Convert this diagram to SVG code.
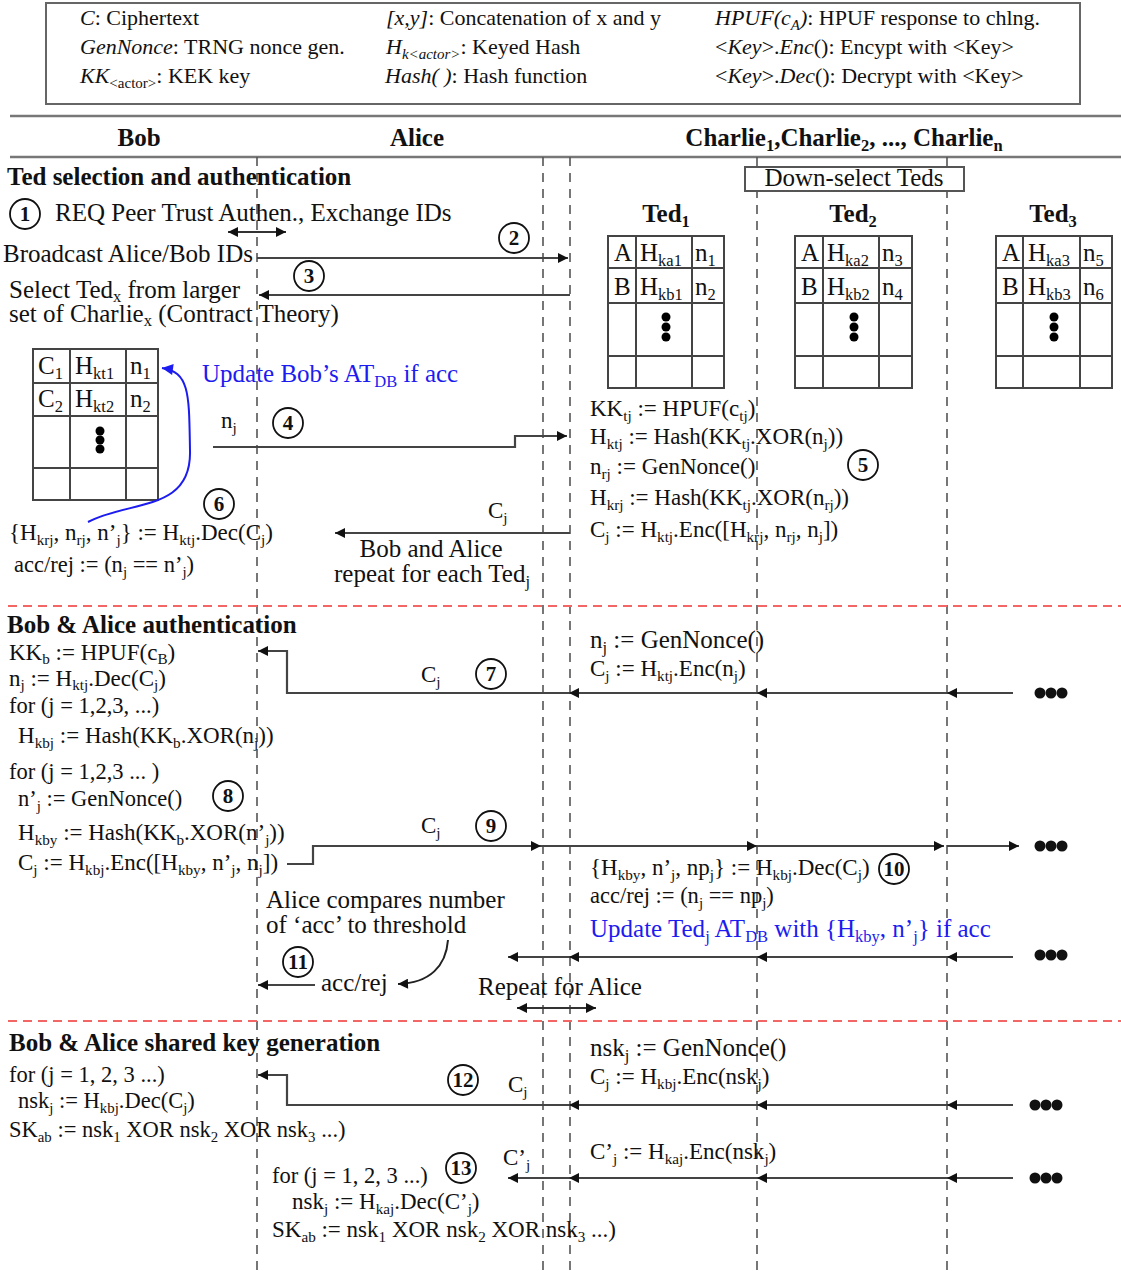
<svg xmlns="http://www.w3.org/2000/svg" width="1121" height="1271" viewBox="0 0 1121 1271">
<style>
text{font-family:"Liberation Serif","Times New Roman",serif;font-size:25px;fill:#111}
.lg{font-family:"Liberation Serif","Times New Roman",serif;font-size:22px}
.f23{font-size:23px}
.f22{font-size:22.5px}
.b{font-weight:bold}
.s{font-size:0.66em}
.ls{font-size:15px}
.blue{fill:#1c1cf0}
.c{text-anchor:middle}
.life{stroke:#555;stroke-width:1.6;stroke-dasharray:9 7;fill:none}
.red{stroke:#f26666;stroke-width:2;stroke-dasharray:9 6;fill:none}
.rule{stroke:#777;stroke-width:2.5}
.ar{stroke:#444;stroke-width:2.2;fill:none;marker-end:url(#ah)}
.dbl{stroke:#333;stroke-width:2.2;fill:none;marker-end:url(#ah);marker-start:url(#ahs)}
.tb{fill:#fff;stroke:#444;stroke-width:2}
.tg{stroke:#444;stroke-width:2}
.num circle{fill:#fff;stroke:#111;stroke-width:1.8}
.num text{font-weight:bold;font-size:21px;text-anchor:middle}
</style>
<defs>
<marker id="ah" viewBox="0 0 10 10" refX="10" refY="5" markerWidth="12" markerHeight="10" markerUnits="userSpaceOnUse" orient="auto"><path d="M0,0 L10,5 L0,10 z" fill="#111"/></marker>
<marker id="ahs" viewBox="0 0 10 10" refX="10" refY="5" markerWidth="12" markerHeight="10" markerUnits="userSpaceOnUse" orient="auto-start-reverse"><path d="M0,0 L10,5 L0,10 z" fill="#111"/></marker>
<marker id="ahb" viewBox="0 0 10 10" refX="10" refY="5" markerWidth="13" markerHeight="11" markerUnits="userSpaceOnUse" orient="auto"><path d="M0,0 L10,5 L0,10 z" fill="#1c1cf0"/></marker>
</defs>
<rect width="1121" height="1271" fill="#fff"/>

<g id="legend">
<rect x="46" y="3" width="1034" height="101" fill="#fff" stroke="#666" stroke-width="2"/>
<text class="lg" x="80" y="25"><tspan font-style="italic">C</tspan>: Ciphertext</text>
<text class="lg" x="80" y="54"><tspan font-style="italic">GenNonce</tspan>: TRNG nonce gen.</text>
<text class="lg" x="80" y="83"><tspan font-style="italic">KK</tspan><tspan class="ls" dy="5">&lt;actor&gt;</tspan><tspan dy="-5">: KEK key</tspan></text>
<text class="lg" x="386" y="25"><tspan font-style="italic">[x,y]</tspan>: Concatenation of x and y</text>
<text class="lg" x="386" y="54"><tspan font-style="italic">H</tspan><tspan class="ls" font-style="italic" dy="5">k&lt;actor&gt;</tspan><tspan dy="-5">: Keyed Hash</tspan></text>
<text class="lg" x="385" y="83"><tspan font-style="italic">Hash( )</tspan>: Hash function</text>
<text class="lg" x="715" y="25"><tspan font-style="italic">HPUF(c</tspan><tspan class="ls" font-style="italic" dy="5">A</tspan><tspan font-style="italic" dy="-5">)</tspan>: HPUF response to chlng.</text>
<text class="lg" x="715" y="54">&lt;<tspan font-style="italic">Key</tspan>&gt;.<tspan font-style="italic">Enc</tspan>(): Encypt with &lt;Key&gt;</text>
<text class="lg" x="715" y="83">&lt;<tspan font-style="italic">Key</tspan>&gt;.<tspan font-style="italic">Dec</tspan>(): Decrypt with &lt;Key&gt;</text>
</g>

<g id="header">
<line class="rule" x1="10" y1="116" x2="1121" y2="116"/>
<line class="rule" x1="10" y1="157" x2="1121" y2="157"/>
<text class="b c" x="139" y="146">Bob</text>
<text class="b c" x="417" y="146">Alice</text>
<text class="b c" x="844" y="146">Charlie<tspan class="s" dy="5">1</tspan><tspan dy="-5">,Charlie</tspan><tspan class="s" dy="5">2</tspan><tspan dy="-5">, ..., Charlie</tspan><tspan class="s" dy="5">n</tspan></text>
</g>

<g id="lifelines">
<line class="life" x1="257" y1="157" x2="257" y2="1271"/>
<line class="life" x1="543" y1="157" x2="543" y2="1271"/>
<line class="life" x1="570" y1="157" x2="570" y2="1271"/>
<line class="life" x1="757" y1="157" x2="757" y2="1271"/>
<line class="life" x1="947" y1="157" x2="947" y2="1271"/>
<line class="red" x1="8" y1="606" x2="1121" y2="606"/>
<line class="red" x1="8" y1="1021" x2="1121" y2="1021"/>
</g>

<g id="section-titles">
<text class="b" x="7" y="185">Ted selection and authentication</text>
<text class="b" x="7" y="633">Bob &amp; Alice authentication</text>
<text class="b" x="9" y="1051">Bob &amp; Alice shared key generation</text>
</g>

<g id="downselect">
<rect x="745" y="167" width="219" height="24" fill="#fff" stroke="#555" stroke-width="2"/>
<text class="c" x="854" y="186">Down-select Teds</text>
</g>

<g id="ted1">
<text class="b c" x="666" y="222">Ted<tspan class="s" dy="5">1</tspan></text>
<rect class="tb" x="608" y="236" width="116" height="152"/>
<line class="tg" x1="636" y1="236" x2="636" y2="388"/>
<line class="tg" x1="692" y1="236" x2="692" y2="388"/>
<line class="tg" x1="608" y1="268" x2="724" y2="268"/>
<line class="tg" x1="608" y1="303" x2="724" y2="303"/>
<line class="tg" x1="608" y1="356" x2="724" y2="356"/>
<text x="614" y="261">A</text><text x="640" y="261">H<tspan class="s" dy="5">ka1</tspan></text><text x="695" y="261">n<tspan class="s" dy="5">1</tspan></text>
<text x="614" y="295">B</text><text x="640" y="295">H<tspan class="s" dy="5">kb1</tspan></text><text x="695" y="295">n<tspan class="s" dy="5">2</tspan></text>
<circle cx="666" cy="317" r="4.5"/><circle cx="666" cy="327" r="4.5"/><circle cx="666" cy="337" r="4.5"/>
</g>

<g id="ted2">
<text class="b c" x="853" y="222">Ted<tspan class="s" dy="5">2</tspan></text>
<rect class="tb" x="795" y="236" width="117" height="152"/>
<line class="tg" x1="823" y1="236" x2="823" y2="388"/>
<line class="tg" x1="879" y1="236" x2="879" y2="388"/>
<line class="tg" x1="795" y1="268" x2="912" y2="268"/>
<line class="tg" x1="795" y1="303" x2="912" y2="303"/>
<line class="tg" x1="795" y1="356" x2="912" y2="356"/>
<text x="801" y="261">A</text><text x="827" y="261">H<tspan class="s" dy="5">ka2</tspan></text><text x="882" y="261">n<tspan class="s" dy="5">3</tspan></text>
<text x="801" y="295">B</text><text x="827" y="295">H<tspan class="s" dy="5">kb2</tspan></text><text x="882" y="295">n<tspan class="s" dy="5">4</tspan></text>
<circle cx="854" cy="317" r="4.5"/><circle cx="854" cy="327" r="4.5"/><circle cx="854" cy="337" r="4.5"/>
</g>

<g id="ted3">
<text class="b c" x="1053" y="222">Ted<tspan class="s" dy="5">3</tspan></text>
<rect class="tb" x="996" y="236" width="116" height="152"/>
<line class="tg" x1="1023" y1="236" x2="1023" y2="388"/>
<line class="tg" x1="1080" y1="236" x2="1080" y2="388"/>
<line class="tg" x1="996" y1="268" x2="1112" y2="268"/>
<line class="tg" x1="996" y1="303" x2="1112" y2="303"/>
<line class="tg" x1="996" y1="356" x2="1112" y2="356"/>
<text x="1002" y="261">A</text><text x="1028" y="261">H<tspan class="s" dy="5">ka3</tspan></text><text x="1083" y="261">n<tspan class="s" dy="5">5</tspan></text>
<text x="1002" y="295">B</text><text x="1028" y="295">H<tspan class="s" dy="5">kb3</tspan></text><text x="1083" y="295">n<tspan class="s" dy="5">6</tspan></text>
<circle cx="1054" cy="317" r="4.5"/><circle cx="1054" cy="327" r="4.5"/><circle cx="1054" cy="337" r="4.5"/>
</g>

<g id="bob-table">
<rect class="tb" x="33" y="349" width="125" height="151"/>
<line class="tg" x1="70" y1="349" x2="70" y2="500"/>
<line class="tg" x1="126" y1="349" x2="126" y2="500"/>
<line class="tg" x1="33" y1="383" x2="158" y2="383"/>
<line class="tg" x1="33" y1="416" x2="158" y2="416"/>
<line class="tg" x1="33" y1="468" x2="158" y2="468"/>
<text x="38" y="374">C<tspan class="s" dy="5">1</tspan></text><text x="75" y="374">H<tspan class="s" dy="5">kt1</tspan></text><text x="130" y="374">n<tspan class="s" dy="5">1</tspan></text>
<text x="38" y="407">C<tspan class="s" dy="5">2</tspan></text><text x="75" y="407">H<tspan class="s" dy="5">kt2</tspan></text><text x="130" y="407">n<tspan class="s" dy="5">2</tspan></text>
<circle cx="100" cy="431" r="4.5"/><circle cx="100" cy="440" r="4.5"/><circle cx="100" cy="449" r="4.5"/>
</g>

<g id="connectors">
<line class="dbl" x1="228" y1="232" x2="286" y2="232"/>
<line class="ar" x1="257" y1="258" x2="568" y2="258"/>
<line class="ar" x1="570" y1="295" x2="259" y2="295"/>
<path d="M88 522 C130 500 192 512 190 450 C189 395 190 372 162 368" fill="none" stroke="#1c1cf0" stroke-width="2" marker-end="url(#ahb)"/>
<polyline class="ar" points="213,447 515,447 515,436 567,436"/>
<line class="ar" x1="570" y1="533" x2="335" y2="533"/>
<line class="ar" x1="1013" y1="693" x2="947" y2="693"/>
<line class="ar" x1="947" y1="693" x2="757" y2="693"/>
<line class="ar" x1="757" y1="693" x2="569" y2="693"/>
<polyline class="ar" points="569,693 287,693 287,651 258,651"/>
<polyline class="ar" points="287,864 313,864 313,846 541,846"/>
<line class="ar" x1="541" y1="846" x2="757" y2="846"/>
<line class="ar" x1="757" y1="846" x2="944" y2="846"/>
<line class="ar" x1="947" y1="846" x2="1019" y2="846"/>
<line class="ar" x1="1013" y1="957" x2="947" y2="957"/>
<line class="ar" x1="947" y1="957" x2="757" y2="957"/>
<line class="ar" x1="757" y1="957" x2="569" y2="957"/>
<line class="ar" x1="569" y1="957" x2="508" y2="957"/>
<line class="ar" x1="315" y1="985" x2="258" y2="985"/>
<path d="M448 940 C446 966 430 983 398 984" fill="none" stroke="#222" stroke-width="2" marker-end="url(#ah)"/>
<line class="dbl" x1="517" y1="1008" x2="596" y2="1008"/>
<line class="ar" x1="1013" y1="1105" x2="947" y2="1105"/>
<line class="ar" x1="947" y1="1105" x2="757" y2="1105"/>
<line class="ar" x1="757" y1="1105" x2="569" y2="1105"/>
<polyline class="ar" points="569,1105 287,1105 287,1075 258,1075"/>
<line class="ar" x1="1013" y1="1178" x2="947" y2="1178"/>
<line class="ar" x1="947" y1="1178" x2="757" y2="1178"/>
<line class="ar" x1="757" y1="1178" x2="569" y2="1178"/>
<line class="ar" x1="569" y1="1178" x2="508" y2="1178"/>
</g>

<g id="more-dots" fill="#111">
<circle cx="1040" cy="693" r="5.5"/><circle cx="1051" cy="693" r="5.5"/><circle cx="1062" cy="693" r="5.5"/>
<circle cx="1040" cy="846" r="5.5"/><circle cx="1051" cy="846" r="5.5"/><circle cx="1062" cy="846" r="5.5"/>
<circle cx="1040" cy="955" r="5.5"/><circle cx="1051" cy="955" r="5.5"/><circle cx="1062" cy="955" r="5.5"/>
<circle cx="1035" cy="1105" r="5.5"/><circle cx="1046" cy="1105" r="5.5"/><circle cx="1057" cy="1105" r="5.5"/>
<circle cx="1035" cy="1178" r="5.5"/><circle cx="1046" cy="1178" r="5.5"/><circle cx="1057" cy="1178" r="5.5"/>
</g>

<g id="step-numbers" class="num">
<g><circle cx="25" cy="214" r="15"/><text x="25" y="221">1</text></g>
<g><circle cx="514" cy="238" r="15"/><text x="514" y="245">2</text></g>
<g><circle cx="309" cy="276" r="15"/><text x="309" y="283">3</text></g>
<g><circle cx="288" cy="423" r="15"/><text x="288" y="430">4</text></g>
<g><circle cx="863" cy="465" r="15"/><text x="863" y="472">5</text></g>
<g><circle cx="219" cy="504" r="15"/><text x="219" y="511">6</text></g>
<g><circle cx="491" cy="674" r="15"/><text x="491" y="681">7</text></g>
<g><circle cx="228" cy="796" r="15"/><text x="228" y="803">8</text></g>
<g><circle cx="491" cy="826" r="15"/><text x="491" y="833">9</text></g>
<g><circle cx="894" cy="869" r="15"/><text x="894" y="876">10</text></g>
<g><circle cx="298" cy="962" r="15"/><text x="298" y="969">11</text></g>
<g><circle cx="463" cy="1080" r="15"/><text x="463" y="1087">12</text></g>
<g><circle cx="461" cy="1168" r="15"/><text x="461" y="1175">13</text></g>
</g>

<g id="texts-section1">
<text x="55" y="221">REQ Peer Trust Authen., Exchange IDs</text>
<text x="3" y="262">Broadcast Alice/Bob IDs</text>
<text x="9" y="298">Select Ted<tspan class="s" dy="4">x</tspan><tspan dy="-4"> from larger</tspan></text>
<text x="9" y="322">set of Charlie<tspan class="s" dy="4">x</tspan><tspan dy="-4"> (Contract Theory)</tspan></text>
<text class="blue" x="202" y="382">Update Bob’s AT<tspan class="s blue" dy="5">DB</tspan><tspan dy="-5"> if acc</tspan></text>
<text class="f23" x="221" y="428">n<tspan class="s" dy="5">j</tspan></text>
<text class="f23" x="590" y="416">KK<tspan class="s" dy="5">tj</tspan><tspan dy="-5"> := HPUF(c</tspan><tspan class="s" dy="5">tj</tspan><tspan dy="-5">)</tspan></text>
<text class="f23" x="590" y="444">H<tspan class="s" dy="5">ktj</tspan><tspan dy="-5"> := Hash(KK</tspan><tspan class="s" dy="5">tj</tspan><tspan dy="-5">.XOR(n</tspan><tspan class="s" dy="5">j</tspan><tspan dy="-5">))</tspan></text>
<text class="f23" x="590" y="474">n<tspan class="s" dy="5">rj</tspan><tspan dy="-5"> := GenNonce()</tspan></text>
<text class="f23" x="590" y="505">H<tspan class="s" dy="5">krj</tspan><tspan dy="-5"> := Hash(KK</tspan><tspan class="s" dy="5">tj</tspan><tspan dy="-5">.XOR(n</tspan><tspan class="s" dy="5">rj</tspan><tspan dy="-5">))</tspan></text>
<text class="f23" x="590" y="537">C<tspan class="s" dy="5">j</tspan><tspan dy="-5"> := H</tspan><tspan class="s" dy="5">ktj</tspan><tspan dy="-5">.Enc([H</tspan><tspan class="s" dy="5">krj</tspan><tspan dy="-5">, n</tspan><tspan class="s" dy="5">rj</tspan><tspan dy="-5">, n</tspan><tspan class="s" dy="5">j</tspan><tspan dy="-5">])</tspan></text>
<text class="f23" x="488" y="518">C<tspan class="s" dy="5">j</tspan></text>
<text class="c" x="431" y="557">Bob and Alice</text>
<text class="c" x="432" y="582">repeat for each Ted<tspan class="s" dy="5">j</tspan></text>
<text class="f23" x="9" y="540">{H<tspan class="s" dy="5">krj</tspan><tspan dy="-5">, n</tspan><tspan class="s" dy="5">rj</tspan><tspan dy="-5">, n’</tspan><tspan class="s" dy="5">j</tspan><tspan dy="-5">} := H</tspan><tspan class="s" dy="5">ktj</tspan><tspan dy="-5">.Dec(C</tspan><tspan class="s" dy="5">j</tspan><tspan dy="-5">)</tspan></text>
<text class="f22" x="14" y="572">acc/rej := (n<tspan class="s" dy="5">j</tspan><tspan dy="-5"> == n’</tspan><tspan class="s" dy="5">j</tspan><tspan dy="-5">)</tspan></text>
</g>

<g id="texts-section2">
<text class="f23" x="9" y="660">KK<tspan class="s" dy="4">b</tspan><tspan dy="-4"> := HPUF(c</tspan><tspan class="s" dy="4">B</tspan><tspan dy="-4">)</tspan></text>
<text class="f23" x="9" y="686">n<tspan class="s" dy="4">j</tspan><tspan dy="-4"> := H</tspan><tspan class="s" dy="4">ktj</tspan><tspan dy="-4">.Dec(C</tspan><tspan class="s" dy="4">j</tspan><tspan dy="-4">)</tspan></text>
<text class="f22" x="9" y="713">for (j = 1,2,3, ...)</text>
<text class="f23" x="18" y="743">H<tspan class="s" dy="5">kbj</tspan><tspan dy="-5"> := Hash(KK</tspan><tspan class="s" dy="5">b</tspan><tspan dy="-5">.XOR(n</tspan><tspan class="s" dy="5">j</tspan><tspan dy="-5">))</tspan></text>
<text class="f22" x="9" y="779">for (j = 1,2,3 ... )</text>
<text class="f22" x="18" y="806">n’<tspan class="s" dy="5">j</tspan><tspan dy="-5"> := GenNonce()</tspan></text>
<text class="f23" x="18" y="840">H<tspan class="s" dy="5">kby</tspan><tspan dy="-5"> := Hash(KK</tspan><tspan class="s" dy="5">b</tspan><tspan dy="-5">.XOR(n’</tspan><tspan class="s" dy="5">j</tspan><tspan dy="-5">))</tspan></text>
<text class="f23" x="18" y="870">C<tspan class="s" dy="5">j</tspan><tspan dy="-5"> := H</tspan><tspan class="s" dy="5">kbj</tspan><tspan dy="-5">.Enc([H</tspan><tspan class="s" dy="5">kby</tspan><tspan dy="-5">, n’</tspan><tspan class="s" dy="5">j</tspan><tspan dy="-5">, n</tspan><tspan class="s" dy="5">j</tspan><tspan dy="-5">])</tspan></text>
<text class="f23" x="421" y="682">C<tspan class="s" dy="5">j</tspan></text>
<text class="f23" x="421" y="833">C<tspan class="s" dy="5">j</tspan></text>
<text x="590" y="648">n<tspan class="s" dy="5">j</tspan><tspan dy="-5"> := GenNonce()</tspan></text>
<text class="f23" x="590" y="676">C<tspan class="s" dy="5">j</tspan><tspan dy="-5"> := H</tspan><tspan class="s" dy="5">ktj</tspan><tspan dy="-5">.Enc(n</tspan><tspan class="s" dy="5">j</tspan><tspan dy="-5">)</tspan></text>
<text class="f23" x="590" y="875">{H<tspan class="s" dy="5">kby</tspan><tspan dy="-5">, n’</tspan><tspan class="s" dy="5">j</tspan><tspan dy="-5">, np</tspan><tspan class="s" dy="5">j</tspan><tspan dy="-5">} := H</tspan><tspan class="s" dy="5">kbj</tspan><tspan dy="-5">.Dec(C</tspan><tspan class="s" dy="5">j</tspan><tspan dy="-5">)</tspan></text>
<text class="f22" x="590" y="903">acc/rej := (n<tspan class="s" dy="5">j</tspan><tspan dy="-5"> == np</tspan><tspan class="s" dy="5">j</tspan><tspan dy="-5">)</tspan></text>
<text class="blue" x="590" y="937">Update Ted<tspan class="s blue" dy="5">j</tspan><tspan dy="-5"> AT</tspan><tspan class="s blue" dy="5">DB</tspan><tspan dy="-5"> with {H</tspan><tspan class="s blue" dy="5">kby</tspan><tspan dy="-5">, n’</tspan><tspan class="s blue" dy="5">j</tspan><tspan dy="-5">} if acc</tspan></text>
<text x="266" y="908">Alice compares number</text>
<text x="266" y="933">of ‘acc’ to threshold</text>
<text x="321" y="991">acc/rej</text>
<text class="c" x="560" y="995">Repeat for Alice</text>
</g>

<g id="texts-section3">
<text class="f22" x="9" y="1082">for (j = 1, 2, 3 ...)</text>
<text class="f22" x="18" y="1108">nsk<tspan class="s" dy="5">j</tspan><tspan dy="-5"> := H</tspan><tspan class="s" dy="5">kbj</tspan><tspan dy="-5">.Dec(C</tspan><tspan class="s" dy="5">j</tspan><tspan dy="-5">)</tspan></text>
<text class="f22" x="9" y="1137">SK<tspan class="s" dy="5">ab</tspan><tspan dy="-5"> := nsk</tspan><tspan class="s" dy="5">1</tspan><tspan dy="-5"> XOR nsk</tspan><tspan class="s" dy="5">2</tspan><tspan dy="-5"> XOR nsk</tspan><tspan class="s" dy="5">3</tspan><tspan dy="-5"> ...)</tspan></text>
<text x="590" y="1056">nsk<tspan class="s" dy="5">j</tspan><tspan dy="-5"> := GenNonce()</tspan></text>
<text class="f23" x="590" y="1084">C<tspan class="s" dy="5">j</tspan><tspan dy="-5"> := H</tspan><tspan class="s" dy="5">kbj</tspan><tspan dy="-5">.Enc(nsk</tspan><tspan class="s" dy="5">j</tspan><tspan dy="-5">)</tspan></text>
<text class="f23" x="508" y="1092">C<tspan class="s" dy="5">j</tspan></text>
<text class="f23" x="590" y="1159">C’<tspan class="s" dy="5">j</tspan><tspan dy="-5"> := H</tspan><tspan class="s" dy="5">kaj</tspan><tspan dy="-5">.Enc(nsk</tspan><tspan class="s" dy="5">j</tspan><tspan dy="-5">)</tspan></text>
<text class="f23" x="503" y="1165">C’<tspan class="s" dy="5">j</tspan></text>
<text class="f22" x="272" y="1183">for (j = 1, 2, 3 ...)</text>
<text class="f23" x="292" y="1209">nsk<tspan class="s" dy="5">j</tspan><tspan dy="-5"> := H</tspan><tspan class="s" dy="5">kaj</tspan><tspan dy="-5">.Dec(C’</tspan><tspan class="s" dy="5">j</tspan><tspan dy="-5">)</tspan></text>
<text class="f23" x="272" y="1237">SK<tspan class="s" dy="5">ab</tspan><tspan dy="-5"> := nsk</tspan><tspan class="s" dy="5">1</tspan><tspan dy="-5"> XOR nsk</tspan><tspan class="s" dy="5">2</tspan><tspan dy="-5"> XOR nsk</tspan><tspan class="s" dy="5">3</tspan><tspan dy="-5"> ...)</tspan></text>
</g>
</svg>
